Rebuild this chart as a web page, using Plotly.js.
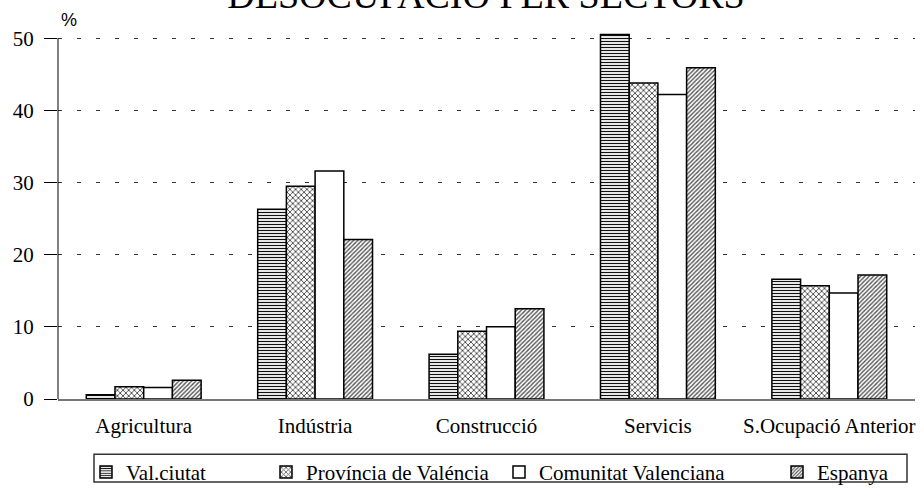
<!DOCTYPE html>
<html>
<head>
<meta charset="utf-8">
<script src="https://cdn.plot.ly/plotly-3.0.1.min.js"></script>
<style>html,body{margin:0;padding:0;background:#fff;}#chart{width:924px;height:502px;}</style>
</head>
<body>
<div id="chart"></div>
<script>
const categories = ["Agricultura", "Indústria", "Construcció", "Servicis", "S.Ocupació Anterior"];
const seriesNames = ["Val.ciutat", "Província de Valéncia", "Comunitat Valenciana", "Espanya"];
const valCiutat = [0.6, 26.3, 6.2, 50.5, 16.6];
const provincia = [1.7, 29.5, 9.4, 43.8, 15.7];
const comunitat = [1.6, 31.6, 10.0, 42.2, 14.7];
const espanya = [2.6, 22.1, 12.5, 45.9, 17.2];
const yTicks = [0, 10, 20, 30, 40, 50];
const titleText = "DESOCUPACIÓ PER SECTORS";
const unitLabel = "%";

const serif = "Liberation Serif, Times New Roman, serif";
const values = [valCiutat, provincia, comunitat, espanya];
const patterns = [
  {shape: "-", size: 3, solidity: 0.4, fgcolor: "#111", bgcolor: "#fff", fillmode: "replace"},
  {shape: "x", size: 4, solidity: 0.4, fgcolor: "#444", bgcolor: "#fff", fillmode: "replace"},
  {shape: "", fgcolor: "#000", bgcolor: "#fff"},
  {shape: "/", size: 3, solidity: 0.45, fgcolor: "#555", bgcolor: "#fff", fillmode: "replace"}
];
const yMax = 51, yTop = 50;
const plotL = 58, plotR = 915, plotT = 31, plotB = 417;
const pw = plotR - plotL, ph = plotB - plotT;
const legendPx = [86, 266, 499, 777];
const legendNames = ["legend", "legend2", "legend3", "legend4"];
const py = (p) => (plotB - p) / ph;   // pixel row -> paper y
const px = (p) => (p - plotL) / pw;   // pixel col -> paper x

const traces = values.map((v, i) => ({
  type: "bar",
  name: seriesNames[i],
  x: categories,
  y: v,
  showlegend: true,
  marker: {color: "#fff", pattern: patterns[i], line: {color: "#000", width: 1.5}},
  legend: legendNames[i],
  hoverinfo: "x+y+name"
}));

const layout = {
  width: 924, height: 502,
  margin: {l: plotL, r: 924 - plotR, t: plotT, b: 502 - plotB},
  paper_bgcolor: "#fff", plot_bgcolor: "#fff",
  showlegend: true,
  barmode: "group", bargap: 0.33, bargroupgap: 0,
  font: {family: serif, size: 21, color: "#000"},
  title: {text: titleText, font: {family: serif, size: 38, color: "#000"},
          x: 0.526, xanchor: "center", xref: "container",
          y: 1 - 8 / 502, yanchor: "bottom", yref: "container"},
  xaxis: {type: "category", showgrid: false, showline: true, linecolor: "#777", linewidth: 1.5,
          ticks: "", ticklabelstandoff: 7, tickfont: {family: serif, size: 21, color: "#000"},
          zeroline: false, fixedrange: true},
  yaxis: {range: [0, yMax], tickvals: yTicks, showline: false,
          ticks: "outside", ticklen: 13, tickcolor: "#000", tickwidth: 1,
          ticklabelstandoff: 6,
          showgrid: true, gridcolor: "#333", gridwidth: 1, griddash: "4px,15px",
          zeroline: false, tickfont: {family: serif, size: 21, color: "#000"}, fixedrange: true},
  annotations: [{text: unitLabel, xref: "paper", yref: "paper", x: px(69), y: py(19),
                 xanchor: "center", yanchor: "middle", showarrow: false,
                 font: {family: "Liberation Sans, Arial, sans-serif", size: 18, color: "#000"}}],
  shapes: [
    {type: "line", xref: "paper", yref: "y", x0: 0, x1: 0, y0: 0, y1: yTop,
     line: {color: "#000", width: 1}, layer: "above"},
    {type: "rect", xref: "paper", yref: "paper",
     x0: px(94), x1: px(907), y0: py(475), y1: py(504),
     line: {color: "#333", width: 1.5}, fillcolor: "rgba(0,0,0,0)"}]
};
legendNames.forEach((ln, i) => {
  layout[ln] = {x: px(legendPx[i]), xanchor: "left", y: py(494), yanchor: "middle",
                orientation: "h", bgcolor: "rgba(0,0,0,0)", borderwidth: 0, visible: true,
                font: {family: serif, size: 21, color: "#000"}, itemclick: false, itemdoubleclick: false};
});

Plotly.newPlot("chart", traces, layout, {displayModeBar: false, staticPlot: true});
</script>
</body>
</html>
